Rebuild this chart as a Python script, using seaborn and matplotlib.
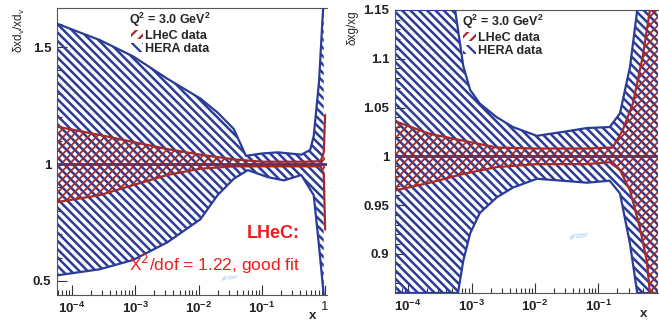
import numpy as np
import pandas as pd
import matplotlib
matplotlib.use("Agg")
import matplotlib.pyplot as plt
from matplotlib.patches import Patch
from matplotlib.ticker import FixedLocator, FuncFormatter, MultipleLocator, LogLocator, NullFormatter
import seaborn as sns

# ---------------- data ----------------
# left panel: d_v uncertainty ratio
dv_hera_x = [5.8e-5, 2.75e-4, 9.3e-4, 3.2e-3, 0.0107, 0.02, 0.036, 0.056, 0.1, 0.18, 0.42, 0.58, 0.66, 0.8, 0.9, 0.95]
dv_hera_hi = [1.60, 1.53, 1.46, 1.365, 1.28, 1.22, 1.15, 1.035, 1.045, 1.05, 1.04, 1.06, 1.12, 1.35, 1.6, 1.7]
dv_hera_lo_x = [5.8e-5, 2.75e-4, 9.3e-4, 3.2e-3, 0.0107, 0.02, 0.036, 0.06, 0.124, 0.224, 0.42, 0.66, 0.8, 0.95]
dv_hera_lo = [0.524, 0.55, 0.59, 0.665, 0.764, 0.867, 0.937, 0.974, 0.944, 0.93, 0.953, 0.867, 0.65, 0.44]

dv_lhec_x = [5.8e-5, 2.75e-4, 9.3e-4, 3.2e-3, 0.0107, 0.036, 0.1, 0.5, 0.85, 0.95, 1.0]
dv_lhec_hi = [1.16, 1.124, 1.094, 1.064, 1.04, 1.02, 1.01, 1.01, 1.012, 1.05, 1.21]
dv_lhec_lo = [0.837, 0.867, 0.91, 0.953, 0.98, 0.99, 0.99, 0.99, 0.99, 0.96, 0.72]

# right panel: gluon uncertainty ratio
g_hera_hi_x = [6.2e-5, 5.5e-4, 7.4e-4, 9.5e-4, 1.35e-3, 2.5e-3, 4.5e-3, 0.0107, 0.0275, 0.066, 0.151, 0.219, 0.316, 0.41, 0.87]
g_hera_hi = [1.15, 1.15, 1.0925, 1.068, 1.054, 1.04, 1.03, 1.021, 1.025, 1.029, 1.03, 1.044, 1.092, 1.15, 1.15]
g_hera_lo_x = [6.2e-5, 6.1e-4, 7.4e-4, 9.5e-4, 1.35e-3, 2.5e-3, 4.5e-3, 0.0107, 0.0275, 0.066, 0.151, 0.219, 0.316, 0.41, 0.87]
g_hera_lo = [0.86, 0.86, 0.893, 0.921, 0.942, 0.958, 0.968, 0.977, 0.975, 0.973, 0.975, 0.962, 0.91, 0.86, 0.86]

g_lhec_hi_x = [6.2e-5, 2.2e-4, 7.4e-4, 2.5e-3, 0.0107, 0.066, 0.168, 0.243, 0.349, 0.50, 0.65, 0.87]
g_lhec_hi = [1.036, 1.023, 1.016, 1.009, 1.008, 1.008, 1.009, 1.027, 1.054, 1.102, 1.15, 1.15]
g_lhec_lo_x = [6.2e-5, 2.2e-4, 7.4e-4, 2.5e-3, 0.0107, 0.066, 0.151, 0.219, 0.316, 0.45, 0.58, 0.65, 0.87]
g_lhec_lo = [0.965, 0.973, 0.982, 0.989, 0.992, 0.992, 0.994, 0.986, 0.965, 0.927, 0.893, 0.86, 0.86]

x_tick_vals = [1e-4, 1e-3, 1e-2, 1e-1, 1.0]
x_tick_labels = [r"$10^{-4}$", r"$10^{-3}$", r"$10^{-2}$", r"$10^{-1}$", "1"]
dv_y_ticks = [0.5, 1.0, 1.5]
dv_y_labels = ["0.5", "1", "1.5"]
g_y_ticks = [0.9, 0.95, 1.0, 1.05, 1.1, 1.15]
g_y_labels = ["0.9", "0.95", "1", "1.05", "1.1", "1.15"]

# ---------------- style ----------------
sns.set_style("ticks")
plt.rcParams["font.family"] = ["Liberation Sans", "DejaVu Sans"]
plt.rcParams["mathtext.fontset"] = "custom"
plt.rcParams["mathtext.rm"] = "Liberation Sans:bold"
plt.rcParams["mathtext.it"] = "Liberation Sans:bold"
plt.rcParams["mathtext.bf"] = "Liberation Sans:bold"
plt.rcParams["hatch.linewidth"] = 1.5

BLUE = "#2b3c98"
RED = "#a52a2a"
TXTRED = "#ee1c1c"
H_BLUE = "\\" * 4
H_RED = "/" * 4

fig = plt.figure(figsize=(6.59, 3.25), dpi=100)
axL = fig.add_axes([0.0865, 0.0923, 0.4097, 0.883])
axR = fig.add_axes([0.5994, 0.0985, 0.399, 0.871])


def band(ax, xs_hi, hi, xs_lo, lo, color, hatch, z, hlw):
    plt.rcParams["hatch.linewidth"] = hlw
    grid = np.unique(np.concatenate([xs_hi, xs_lo]))
    lg = np.log10(grid)
    h = np.interp(lg, np.log10(xs_hi), hi)
    l = np.interp(lg, np.log10(xs_lo), lo)
    ax.fill_between(grid, l, h, facecolor="none", edgecolor=color, hatch=hatch,
                    linewidth=0, zorder=z)
    dfh = pd.DataFrame({"x": xs_hi, "y": hi})
    dfl = pd.DataFrame({"x": xs_lo, "y": lo})
    sns.lineplot(data=dfh, x="x", y="y", ax=ax, color=color, lw=1.6,
                 estimator=None, sort=False, zorder=z + 1)
    sns.lineplot(data=dfl, x="x", y="y", ax=ax, color=color, lw=1.6,
                 estimator=None, sort=False, zorder=z + 1)


def style_axes(ax, xlim, ylim, yt, ytl, ylabel, leg_x):
    ax.set_xscale("log")
    ax.set_xlim(*xlim)
    ax.set_ylim(*ylim)
    ax.xaxis.set_major_locator(FixedLocator(x_tick_vals))
    ax.xaxis.set_major_formatter(FuncFormatter(
        lambda v, p: x_tick_labels[x_tick_vals.index(v)] if v in x_tick_vals else ""))
    ax.xaxis.set_minor_locator(LogLocator(base=10, subs=np.arange(2, 10)))
    ax.xaxis.set_minor_formatter(NullFormatter())
    ax.yaxis.set_major_locator(FixedLocator(yt))
    ax.set_yticklabels(ytl)
    ax.tick_params(axis="both", which="both", direction="in", labelsize=9.5,
                   pad=4, colors="#333333", labelcolor="#222222")
    ax.tick_params(axis="both", which="major", length=7, width=0.8)
    ax.tick_params(axis="both", which="minor", length=3.5, width=0.8)
    for lab in ax.get_yticklabels():
        lab.set_fontweight("bold")
    for side in ["left", "bottom", "top"]:
        ax.spines[side].set_color("#555555")
        ax.spines[side].set_linewidth(0.8)
    ax.spines["right"].set_visible(False)
    ax.set_xlabel("x", fontsize=9.5, fontweight="bold")
    ax.xaxis.set_label_coords(0.945, -0.052)
    ax.set_ylabel(ylabel, loc="top", fontsize=8.5, labelpad=4)
    plt.rcParams["hatch.linewidth"] = 1.6
    leg_handles = [Patch(facecolor="none", edgecolor=RED, hatch="///", linewidth=0),
                   Patch(facecolor="none", edgecolor=BLUE, hatch="\\\\\\", linewidth=0)]
    leg = ax.legend(leg_handles, ["LHeC data", "HERA data"],
                    title=r"Q$^{2}$ = 3.0 GeV$^{2}$", loc="upper left",
                    bbox_to_anchor=(leg_x, 1.02), frameon=False, fontsize=9,
                    handlelength=1.0, handleheight=0.8, handletextpad=0.15,
                    labelspacing=0.05, borderpad=0.2)
    leg.get_title().set_fontweight("bold")
    leg.get_title().set_fontsize(9)
    for t in leg.get_texts():
        t.set_fontweight("bold")
    leg.set_zorder(20)


# ---- left panel
band(axL, dv_hera_x, dv_hera_hi, dv_hera_lo_x, dv_hera_lo, BLUE, H_BLUE, 2, 1.8)
band(axL, dv_lhec_x, dv_lhec_hi, dv_lhec_x, dv_lhec_lo, RED, H_RED, 4, 1.3)
axL.axhline(1.0, color=BLUE, lw=2.0, zorder=6)
axL.axhline(1.0, color=RED, lw=1.0, ls=(0, (2, 2)), zorder=7)
style_axes(axL, (5.8e-5, 1.07), (0.44, 1.667), dv_y_ticks, dv_y_labels,
           r"δxd$_\mathregular{v}$/xd$_\mathregular{v}$", 0.235)
axL.yaxis.set_minor_locator(MultipleLocator(0.1))
axL.text(0.9, 0.216, "LHeC:", transform=axL.transAxes, ha="right", va="center",
         color=TXTRED, fontsize=13, fontweight="bold")
axL.text(0.9, 0.108, "X$^{2}$/dof = 1.22, good fit", transform=axL.transAxes,
         ha="right", va="center", color=TXTRED, fontsize=12.5,
         math_fontfamily="dejavusans")
axL.text(0.64, 0.06, "xFitter", transform=axL.transAxes, ha="center", va="center",
         color="#9cc8e8", fontsize=4.5, style="italic", rotation=10)

# ---- right panel
band(axR, g_hera_hi_x, g_hera_hi, g_hera_lo_x, g_hera_lo, BLUE, H_BLUE, 2, 1.8)
band(axR, g_lhec_hi_x, g_lhec_hi, g_lhec_lo_x, g_lhec_lo, RED, H_RED, 4, 1.3)
axR.axhline(1.0, color=BLUE, lw=2.0, zorder=6)
axR.axhline(1.0, color=RED, lw=1.0, ls=(0, (2, 2)), zorder=7)
style_axes(axR, (6.2e-5, 0.87), (0.86, 1.15), g_y_ticks, g_y_labels, "δxg/xg", 0.22)
axR.yaxis.set_minor_locator(MultipleLocator(0.01))
axR.text(0.7, 0.2, "xFitter", transform=axR.transAxes, ha="center", va="center",
         color="#9cc8e8", fontsize=5, style="italic", rotation=10)

fig.savefig("out.png", dpi=100)
